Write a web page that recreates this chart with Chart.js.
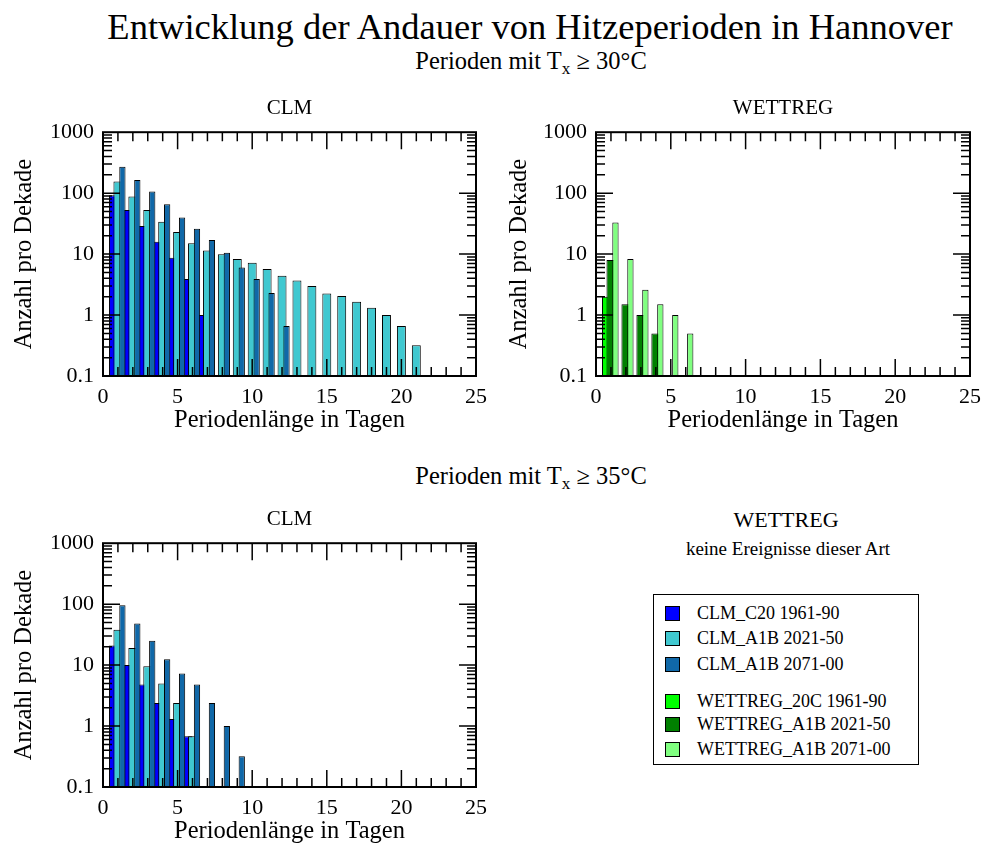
<!DOCTYPE html>
<html>
<head>
<meta charset="utf-8">
<script src="https://cdn.jsdelivr.net/npm/chart.js@4.4.1/dist/chart.umd.min.js"></script>
<style>
  body { margin: 0; width: 989px; height: 847px; overflow: hidden; background: #fff; position: relative;
         font-family: "Liberation Serif", "DejaVu Serif", serif; color: #000; }
  .t { position: absolute; white-space: nowrap; transform: translate(-50%, -50%); }
  .t sub { font-size: 70%; vertical-align: -0.25em; }
  canvas { position: absolute; }
  #legend { position: absolute; left: 653px; top: 594px; width: 266px; height: 171px; border: 1.5px solid #000; box-sizing: border-box; }
  #legend .row { position: absolute; left: 11px; height: 24px; display: flex; align-items: center; font-size: 18px; white-space: nowrap; }
  #legend .sw { width: 13px; height: 13px; border: 1px solid #000; margin-right: 17px; }
</style>
</head>
<body>
<div class="t" style="left:530px; top:26px; font-size:36.5px;">Entwicklung der Andauer von Hitzeperioden in Hannover</div>
<div class="t" style="left:531px; top:63px; font-size:24.5px;">Perioden mit T<sub>x</sub> ≥ 30°C</div>
<div class="t" style="left:531px; top:478px; font-size:24.5px;">Perioden mit T<sub>x</sub> ≥ 35°C</div>
<div class="t" style="left:786px; top:520px; font-size:22px;">WETTREG</div>
<div class="t" style="left:788px; top:549px; font-size:19px;">keine Ereignisse dieser Art</div>
<div id="legend"></div>

<canvas id="clm30" width="495" height="350" style="left:0; top:90px;"></canvas>
<canvas id="wet30" width="494" height="350" style="left:495px; top:90px;"></canvas>
<canvas id="clm35" width="495" height="350" style="left:0; top:501px;"></canvas>

<script>
// period length in days
const days = [1, 2, 3, 4, 5, 6, 7, 8, 9, 10, 11, 12, 13, 14, 15, 16, 17, 18, 19, 20, 21];

// Tx >= 30 C, CLM (number per decade)
const clm30C20 = [92, 53, 29, 16, 8.7, 3.9, 1.0];
const clm30A1B2021 = [155, 88, 53, 34, 23, 15, 11.5, 9.9, 8.3, 7.2, 5.7, 4.4, 3.7, 3.0, 2.26, 2.05, 1.65, 1.32, 1.0, 0.66, 0.32];
const clm30A1B2071 = [270, 165, 106, 66, 40, 26, 17, 10.5, 6.0, 3.9, 2.3, 0.66];

// Tx >= 30 C, WETTREG
const wet30C20 = [2.0];
const wet30A1B2021 = [8.0, 1.5, 1.0, 0.5];
const wet30A1B2071 = [33, 8.3, 2.6, 1.5, 1.0, 0.5];

// Tx >= 35 C, CLM
const clm35C20 = [21, 10, 4.8, 2.4, 1.3, 0.68];
const clm35A1B2021 = [38, 19, 9.6, 5.0, 2.4, 0.68];
const clm35A1B2071 = [96, 48, 25, 12.5, 7.3, 4.8, 2.4, 1.0, 0.32];

const clmLabels = ['CLM_C20 1961-90', 'CLM_A1B 2021-50', 'CLM_A1B 2071-00'];
const wetLabels = ['WETTREG_20C 1961-90', 'WETTREG_A1B 2021-50', 'WETTREG_A1B 2071-00'];
const clmColors = ['#0000ff', '#40c8d0', '#1068a8'];
const wetColors = ['#00ff00', '#008000', '#80ff80'];

const serif = '"Liberation Serif", "DejaVu Serif", serif';

// draw the series first to last so the right-hand bar of a group ends up on top
const paintOrder = {
  id: 'paintOrder',
  beforeDatasetsDraw(chart) {
    const { ctx, chartArea: a } = chart;
    ctx.save();
    ctx.beginPath();
    ctx.rect(a.left, a.top, a.right - a.left, a.bottom - a.top);
    ctx.clip();
    chart.data.datasets.forEach((ds, i) => chart.getDatasetMeta(i).controller.draw());
    ctx.restore();
    return false;
  }
};

// inward ticks + frame, xmgrace style
const frameTicks = {
  id: 'frameTicks',
  afterDraw(chart) {
    const { ctx, chartArea: a, scales: { x, y } } = chart;
    ctx.save();
    ctx.strokeStyle = '#000';
    ctx.lineWidth = 1.5;
    ctx.beginPath();
    for (let d = 0; d <= 25; d++) {
      const px = x.getPixelForValue(d);
      const len = d % 5 === 0 ? 17 : 9;
      ctx.moveTo(px, a.bottom); ctx.lineTo(px, a.bottom - len);
      ctx.moveTo(px, a.top); ctx.lineTo(px, a.top + len);
    }
    for (let e = -1; e <= 2; e++) {
      for (let m = 1; m <= 9; m++) {
        const py = y.getPixelForValue(m * Math.pow(10, e));
        const len = m === 1 ? 17 : 9;
        ctx.moveTo(a.left, py); ctx.lineTo(a.left + len, py);
        ctx.moveTo(a.right, py); ctx.lineTo(a.right - len, py);
      }
    }
    ctx.stroke();
    ctx.lineWidth = 2;
    ctx.strokeRect(a.left, a.top, a.right - a.left, a.bottom - a.top);
    ctx.restore();
  }
};

function isDecade(v) {
  const l = Math.log10(v);
  return Math.abs(l - Math.round(l)) < 1e-6;
}

// bars wider than their slot so that neighbours overlap as in the original
const slotWidth = [2.0, 2.0, 1.4];

function panel(id, title, seriesValues, labels, colors, yWidth, rightPad) {
  const datasets = seriesValues.map((vals, i) => ({
    label: labels[i],
    data: days.map((d, k) => ({ x: d, y: vals[k] ?? null })),
    backgroundColor: colors[i],
    borderColor: '#000',
    borderWidth: 1,
    barPercentage: slotWidth[i],
    categoryPercentage: 0.9
  }));

  new Chart(document.getElementById(id), {
    type: 'bar',
    data: { datasets },
    plugins: [paintOrder, frameTicks],
    options: {
      animation: false,
      responsive: false,
      layout: { padding: { left: 0, right: rightPad, top: 0, bottom: 0 } },
      plugins: {
        legend: { display: false },
        tooltip: { enabled: false },
        title: {
          display: true, text: title, color: '#000', fullSize: false,
          font: { family: serif, size: 21, weight: 'normal' },
          padding: { top: 6, bottom: 11 }
        }
      },
      scales: {
        x: {
          type: 'linear', position: 'bottom', min: 0, max: 25, offset: false,
          grid: { display: false, drawTicks: false }, border: { display: false },
          ticks: { stepSize: 5, color: '#000', font: { family: serif, size: 22 }, padding: 8, maxRotation: 0, autoSkip: false },
          title: { display: true, text: 'Periodenlänge in Tagen', color: '#000', font: { family: serif, size: 24.5 }, padding: { top: 0, bottom: 5 } },
          afterFit: s => { s.height = 64; }
        },
        y: {
          type: 'logarithmic', position: 'left', min: 0.1, max: 1000,
          grid: { display: false, drawTicks: false }, border: { display: false },
          ticks: {
            autoSkip: false, color: '#000', font: { family: serif, size: 22 }, padding: 9,
            callback: v => isDecade(v) ? String(+v.toPrecision(3)) : ''
          },
          title: { display: true, text: 'Anzahl pro Dekade', color: '#000', font: { family: serif, size: 24.5 }, padding: { top: 10, bottom: 0 } },
          afterFit: s => { s.width = yWidth; }
        }
      }
    }
  });
}

panel('clm30', 'CLM', [clm30C20, clm30A1B2021, clm30A1B2071], clmLabels, clmColors, 103, 15.5);
panel('wet30', 'WETTREG', [wet30C20, wet30A1B2021, wet30A1B2071], wetLabels, wetColors, 101, 16);
panel('clm35', 'CLM', [clm35C20, clm35A1B2021, clm35A1B2071], clmLabels, clmColors, 103, 15.5);

// shared legend box
const legend = document.getElementById('legend');
const rowTops = [6, 31, 57, 94, 117, 142];
clmLabels.concat(wetLabels).forEach((lab, i) => {
  const row = document.createElement('div');
  row.className = 'row';
  row.style.top = rowTops[i] + 'px';
  const sw = document.createElement('div');
  sw.className = 'sw';
  sw.style.background = clmColors.concat(wetColors)[i];
  row.appendChild(sw);
  row.appendChild(document.createTextNode(lab));
  legend.appendChild(row);
});
</script>
</body>
</html>
